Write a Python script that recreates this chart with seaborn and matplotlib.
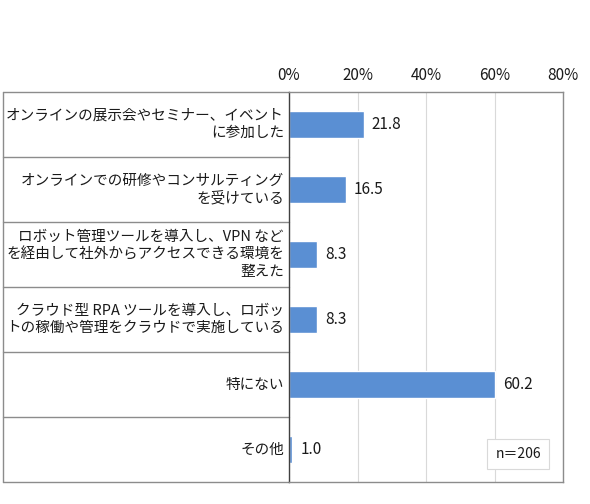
import matplotlib
matplotlib.use('Agg')
import matplotlib.pyplot as plt
import seaborn as sns
import pandas as pd

categories = [
    'オンラインの展示会やセミナー、イベント\nに参加した',
    'オンラインでの研修やコンサルティング\nを受けている',
    'ロボット管理ツールを導入し、VPN など\nを経由して社外からアクセスできる環境を\n整えた',
    'クラウド型 RPA ツールを導入し、ロボッ\nトの稼働や管理をクラウドで実施している',
    '特にない',
    'その他',
]
values = [21.8, 16.5, 8.3, 8.3, 60.2, 1.0]
x_ticks = [0, 20, 40, 60, 80]
n_label = 'n＝206'

sns.set_theme(style='white')
plt.rcParams['font.family'] = ['Noto Sans CJK JP', 'DejaVu Sans']

W, H = 590, 504
fig = plt.figure(figsize=(W / 100, H / 100), dpi=100)
x0, x1, y0, y1 = 289, 563, 92, 482
ax = fig.add_axes([x0 / W, 1 - y1 / H, (x1 - x0) / W, (y1 - y0) / H])

df = pd.DataFrame({'cat': categories, 'val': values})
sns.barplot(data=df, x='val', y='cat', orient='h', color='#5A8FD3',
            saturation=1, width=0.43, ax=ax)

ax.set_xlim(0, 80)
ax.set_ylim(len(categories) - 0.5, -0.5)
ax.set_xticks(x_ticks)
ax.set_xticklabels([f'{t}%' for t in x_ticks], fontsize=11)
ax.xaxis.tick_top()
ax.tick_params(axis='x', length=0, pad=6, colors='#1a1a1a')
ax.set_yticks([])
ax.set_xlabel('')
ax.set_ylabel('')
ax.grid(axis='x', color='#D9D9D9', linewidth=0.8)
ax.set_axisbelow(True)

for side in ['top', 'right', 'bottom']:
    ax.spines[side].set_color('#8C8C8C')
    ax.spines[side].set_linewidth(1.0)
ax.spines['left'].set_color('#404040')
ax.spines['left'].set_linewidth(1.0)

# value labels
for i, v in enumerate(values):
    ax.text(v + 2.3, i, f'{v:.1f}', va='center', ha='left', fontsize=11,
            color='#1a1a1a')

# label column (table-like cells)
left_ax = -(x0 - 3) / (x1 - x0)
for i in range(len(categories) + 1):
    ax.axhline(i - 0.5, xmin=left_ax, xmax=0, color='#8C8C8C',
               linewidth=1.0, clip_on=False)
ax.plot([left_ax, left_ax], [0, 1], transform=ax.transAxes,
        color='#8C8C8C', linewidth=1.0, clip_on=False)
label_x = -(x0 - 284) / (x1 - x0)
for i, c in enumerate(categories):
    ax.text(label_x, i, c, transform=ax.get_yaxis_transform(),
            ha='right', va='center', fontsize=10.5, linespacing=1.3,
            color='#1a1a1a', multialignment='right')

ax.text(0.836, 0.072, n_label, transform=ax.transAxes, ha='center',
        va='center', fontsize=10, color='#1a1a1a',
        bbox=dict(boxstyle='square,pad=0.6', facecolor='white',
                  edgecolor='#D9D9D9', linewidth=0.8))

fig.savefig('out.png', dpi=100)
